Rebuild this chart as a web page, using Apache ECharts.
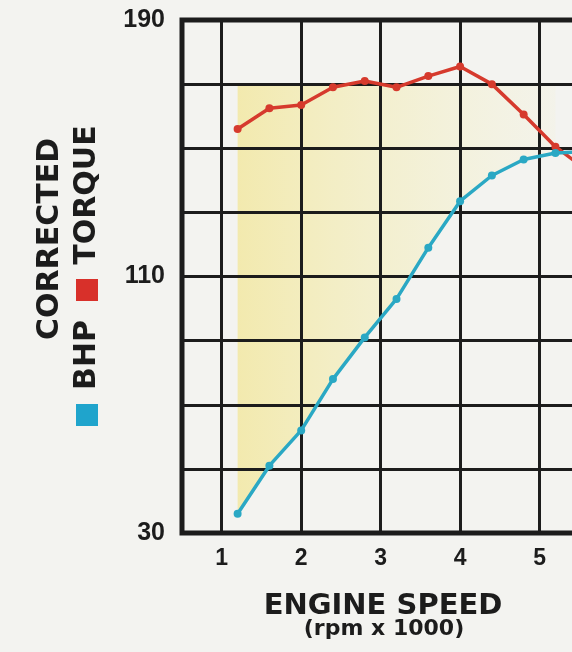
<!DOCTYPE html>
<html>
<head>
<meta charset="utf-8">
<script src="https://cdn.jsdelivr.net/npm/echarts@6/dist/echarts.min.js"></script>
<style>
html,body{margin:0;padding:0;background:#f3f3f0;}
#chart{width:572px;height:652px;}
</style>
</head>
<body>
<div id="chart"></div>
<script>
// Engine speed (rpm x 1000)
const rpm = [1.2, 1.6, 2.0, 2.4, 2.8, 3.2, 3.6, 4.0, 4.4, 4.8, 5.2, 5.6];
// Torque curve (red)
const torque = [156, 162.5, 163.5, 169, 171, 169, 172.5, 175.5, 170, 160.5, 150.5, 143];
// Corrected BHP curve (cyan)
const bhp = [36, 51, 62, 78, 91, 103, 119, 133.5, 141.5, 146.5, 148.5, 149];
// Shaded band: from the BHP curve up to this level
const shadeTop = 170;
const shadeRpm = [1.2, 1.6, 2.0, 2.4, 2.8, 3.2, 3.6, 4.0, 4.4, 4.8, 5.2];
const shadeBase = [36, 51, 62, 78, 91, 103, 119, 133.5, 141.5, 146.5, 148.5];
// Axis ticks
const yLabels = [30, 110, 190];
const xLabels = [1, 2, 3, 4, 5];

const ink = '#1c1c1c';
const chart = echarts.init(document.getElementById('chart'));

function renderShade(params, api) {
  if (params.dataIndex !== 0) return null;
  const pts = [];
  pts.push(api.coord([shadeRpm[0], shadeTop]));
  pts.push(api.coord([shadeRpm[shadeRpm.length - 1], shadeTop]));
  for (let i = shadeRpm.length - 1; i >= 0; i--) {
    pts.push(api.coord([shadeRpm[i], shadeBase[i]]));
  }
  const x0 = pts[0][0], x1 = pts[1][0];
  return {
    type: 'polygon',
    shape: {points: pts},
    style: {
      fill: new echarts.graphic.LinearGradient(x0, 0, x1, 0, [
        {offset: 0, color: 'rgba(242,226,120,0.55)'},
        {offset: 0.55, color: 'rgba(244,234,150,0.30)'},
        {offset: 1, color: 'rgba(246,240,180,0.10)'}
      ], true)
    },
    silent: true
  };
}

chart.setOption({
  backgroundColor: '#f3f3f0',
  animation: false,
  grid: {
    left: 182, top: 20, bottom: 119, right: -47,
    outerBoundsMode: 'none',
    show: true, borderColor: ink, borderWidth: 5, backgroundColor: 'transparent'
  },
  xAxis: {
    type: 'value', min: 0.5, max: 6,
    axisLine: {show: false}, axisTick: {show: false},
    splitLine: {show: true, lineStyle: {color: ink, width: 3}},
    axisLabel: {
      margin: 14, color: ink, fontFamily: 'Liberation Sans', fontWeight: 'bold', fontSize: 23,
      formatter: v => xLabels.includes(v) ? String(v) : ''
    }
  },
  yAxis: {
    type: 'value', min: 30, max: 190, interval: 20,
    axisLine: {show: false}, axisTick: {show: false},
    splitLine: {show: true, lineStyle: {color: ink, width: 3}},
    axisLabel: {
      margin: 17, color: ink, fontFamily: 'Liberation Sans', fontWeight: 'bold', fontSize: 25,
      formatter: v => yLabels.includes(v) ? String(v) : ''
    }
  },
  series: [
    {
      name: 'shade', type: 'custom', silent: true, z: -1,
      data: shadeRpm.map((x, i) => [x, shadeBase[i]]),
      renderItem: renderShade
    },
    {
      name: 'TORQUE', type: 'line',
      data: rpm.map((x, i) => [x, torque[i]]),
      symbol: 'circle', symbolSize: 8,
      itemStyle: {color: '#d63a2d'},
      lineStyle: {color: '#d63a2d', width: 3.5}, z: 5
    },
    {
      name: 'BHP', type: 'line',
      data: rpm.map((x, i) => [x, bhp[i]]),
      symbol: 'circle', symbolSize: 8,
      itemStyle: {color: '#2aa8c4'},
      lineStyle: {color: '#2aa8c4', width: 3.5}, z: 5
    }
  ],
  graphic: [
    {type: 'text', x: 50, y: 239, rotation: Math.PI / 2,
      style: {text: 'CORRECTED', fill: ink, font: 'bold 30px "DejaVu Sans"', align: 'center', verticalAlign: 'middle'}},
    {type: 'rect', shape: {x: 76, y: 404, width: 22, height: 22}, style: {fill: '#1fa4cc'}},
    {type: 'text', x: 87, y: 355, rotation: Math.PI / 2,
      style: {text: 'BHP', fill: ink, font: 'bold 30px "DejaVu Sans"', align: 'center', verticalAlign: 'middle'}},
    {type: 'rect', shape: {x: 76, y: 279, width: 22, height: 22}, style: {fill: '#d8302a'}},
    {type: 'text', x: 87, y: 195, rotation: Math.PI / 2,
      style: {text: 'TORQUE', fill: ink, font: 'bold 30px "DejaVu Sans"', align: 'center', verticalAlign: 'middle'}},
    {type: 'text', x: 383, y: 606,
      style: {text: 'ENGINE SPEED', fill: ink, font: 'bold 29px "DejaVu Sans"', align: 'center', verticalAlign: 'middle'}},
    {type: 'text', x: 384, y: 629,
      style: {text: '(rpm x 1000)', fill: ink, font: 'bold 22px "DejaVu Sans"', align: 'center', verticalAlign: 'middle'}}
  ]
});
</script>
</body>
</html>
